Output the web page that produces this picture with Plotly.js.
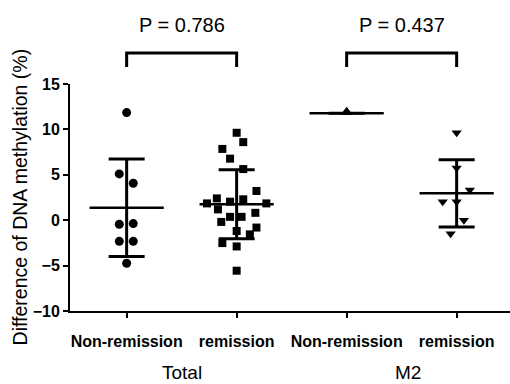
<!DOCTYPE html>
<html>
<head>
<meta charset="utf-8">
<script src="https://cdn.plot.ly/plotly-3.0.1.min.js"></script>
<style>html,body{margin:0;padding:0;background:#fff;}#chart{width:510px;height:384px;}</style>
</head>
<body>
<div id="chart"></div>
<script>
// ---- data ----
const tickLabels = ['Non-remission', 'remission', 'Non-remission', 'remission'];
const groupLabels = ['Total', 'M2'];
const pLabels = ['P = 0.786', 'P = 0.437'];
const yAxisTitle = 'Difference of DNA methylation (%)';

const totalNonRemission = [11.85, 5.1, 4.07, -0.44, -0.37, -2.33, -2.33, -4.74];
const totalRemission = [9.63, 8.6, 7.85, 6.78, 5.63, 3.22, 1.85, 2.4, 2.04, 2.3, 1.85,
  1.19, 0.81, 0.37, 0.37, -0.19, -1.19, -0.81, -1.56, -2.52, -2.89, -5.56];
const m2NonRemission = [11.9];
const m2Remission = [9.63, 5.74, 3.33, 2.04, 2.04, 0.0, -1.48];

const groupMeans = [1.37, 1.75, 11.78, 2.96];
const groupSDs = [5.37, 3.8, 0, 3.7];

// ---- horizontal scatter (jitter) of points within each column: layout only ----
const jitter1 = [0, -0.067, 0.06, -0.067, 0.06, -0.067, 0.06, 0];
const jitter2 = [0, 0.06, -0.13, -0.06, 0.06, 0.18, -0.27, -0.18, -0.06, 0.06, 0.27,
  -0.17, 0.17, -0.06, 0.045, -0.14, 0, 0.18, 0.12, -0.13, 0, 0];
const jitter3 = [0];
const jitter4 = [0, 0, 0.12, -0.127, 0, 0.066, -0.055];

const FONT = '"Liberation Sans", Arial, sans-serif';
const groups = [
  {y: totalNonRemission, j: jitter1, symbol: 'circle', size: 9},
  {y: totalRemission, j: jitter2, symbol: 'square', size: 8},
  {y: m2NonRemission, j: jitter3, symbol: 'triangle-up', size: 11},
  {y: m2Remission, j: jitter4, symbol: 'triangle-down', size: 9}
];

const traces = [];
// mean line + SD error bars
traces.push({
  type: 'scatter', mode: 'markers',
  x: groupMeans.map((_, i) => i), y: groupMeans,
  marker: {symbol: 'line-ew-open', size: 53, color: '#000', line: {color: '#000', width: 2.5}},
  error_y: {type: 'data', array: groupSDs, visible: true, color: '#000', thickness: 3, width: 18},
  hoverinfo: 'skip', showlegend: false, cliponaxis: false
});
groups.forEach((g, i) => {
  traces.push({
    type: 'scatter', mode: 'markers',
    x: g.y.map((_, k) => i + g.j[k]), y: g.y,
    marker: {symbol: g.symbol, size: g.size, color: '#000', line: {width: 0}},
    showlegend: false, cliponaxis: false
  });
});

const groupLabelX = [0.5, 2.56];
const annotations = [];
pLabels.forEach((t, i) => {
  annotations.push({xref: 'x', yref: 'paper', x: 2 * i + 0.5, y: 1.26, text: t, showarrow: false,
    xanchor: 'center', yanchor: 'middle', font: {family: FONT, size: 20, color: '#000'}});
});
groupLabels.forEach((t, i) => {
  annotations.push({xref: 'x', yref: 'paper', x: groupLabelX[i], y: -0.272, text: t, showarrow: false,
    xanchor: 'center', yanchor: 'middle', font: {family: FONT, size: 19, color: '#000'}});
});
annotations.push({xref: 'paper', yref: 'paper', x: -0.114, y: 0.504, text: yAxisTitle, textangle: -90,
  showarrow: false, xanchor: 'center', yanchor: 'middle', font: {family: FONT, size: 19.5, color: '#000'}});

const shapes = [];
[0, 2].forEach(s => {
  shapes.push({type: 'path', xref: 'x', yref: 'paper',
    path: `M ${s},1.0749 L ${s},1.1366 L ${s + 1},1.1366 L ${s + 1},1.0749`,
    line: {color: '#000', width: 3}});
});

const layout = {
  width: 510, height: 384,
  margin: {l: 70, r: 0, t: 84, b: 73},
  paper_bgcolor: '#fff', plot_bgcolor: '#fff',
  showlegend: false,
  xaxis: {
    range: [-0.515, 3.485], tickvals: [0, 1, 2, 3], ticktext: tickLabels,
    showgrid: false, zeroline: false, showline: true, linecolor: '#000', linewidth: 2,
    ticks: 'outside', ticklen: 5, tickwidth: 2, tickcolor: '#000',
    ticklabelstandoff: 10,
    tickfont: {family: FONT, size: 16, color: '#000', weight: 'bold'}
  },
  yaxis: {
    range: [-10, 15], tickvals: [-10, -5, 0, 5, 10, 15],
    showgrid: false, zeroline: false, showline: true, linecolor: '#000', linewidth: 2,
    ticks: 'outside', ticklen: 5, tickwidth: 2, tickcolor: '#000',
    tickfont: {family: FONT, size: 16, color: '#000', weight: 'bold'}
  },
  annotations: annotations,
  shapes: shapes
};

Plotly.newPlot('chart', traces, layout, {displayModeBar: false, staticPlot: true});
</script>
</body>
</html>
